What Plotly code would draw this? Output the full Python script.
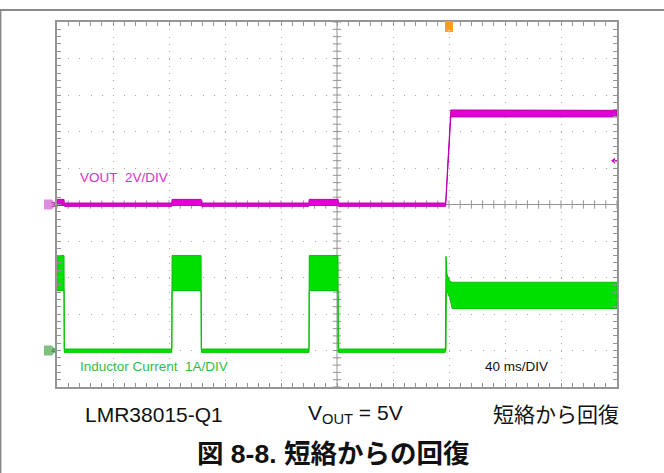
import numpy as np
import plotly.graph_objects as go

# ---------------- data (time in ms, VOUT in V, inductor current in A) ----------------
vout_t  = [0.0, 5.0, 5.2, 82.0, 82.2, 103.0, 103.2, 179.9, 180.1, 200.8, 201.0, 277.6, 281.3, 400.0]
vout_hi = [0.28, 0.28, 0.08, 0.08, 0.28, 0.28, 0.08, 0.08, 0.28, 0.28, 0.08, 0.08, 5.18, 5.16]
vout_lo = [-0.05, -0.05, -0.10, -0.10, -0.05, -0.05, -0.10, -0.10, -0.05, -0.05, -0.10, -0.10, 4.80, 4.80]

il_t  = [0.0, 5.0, 5.2, 82.0, 82.2, 102.9, 103.1, 180.0, 180.2, 200.7, 200.9, 277.4, 277.85, 278.1, 278.5, 280.5, 282.3, 400.0]
il_hi = [2.60, 2.60, 0.04, 0.04, 2.60, 2.60, 0.04, 0.04, 2.60, 2.60, 0.04, 0.04, 2.58, 2.20, 2.10, 1.90, 1.87, 1.87]
il_lo = [1.64, 1.64, -0.05, -0.05, 1.64, 1.64, -0.05, -0.05, 1.64, 1.64, -0.05, -0.05, 0.00, 1.65, 1.62, 1.45, 1.15, 1.15]

time_per_div = 40      # ms/div
n_xdiv = 10
n_ydiv = 10
vout_scale = 2.0       # V/div
il_scale = 1.0         # A/div
vout_offset = 0.0      # div
il_offset = -4.0       # div
trigger_time = 280.0   # ms
trigger_level = 2.4    # V

bottom_labels = ["LMR38015-Q1", "V<sub>OUT</sub> = 5V", "短絡から回復"]
caption = "図 8-8. 短絡からの回復"

# ---------------- colours ----------------
MAG = "#e000d4"
MAG_EDGE = "#b800b0"
GRN = "#00e000"
GRN_EDGE = "#00c000"
GRID = "#a8a8a8"
FRAME = "#959595"
FONT = "Liberation Sans, Arial, Noto Sans CJK JP, sans-serif"

x_max = time_per_div * n_xdiv
y_half = n_ydiv / 2


def to_div(vals, scale, offset):
    return [v / scale + offset for v in vals]


def band(t, hi, lo, fill, edge):
    return go.Scatter(
        x=list(t) + list(t[::-1]),
        y=list(hi) + list(lo[::-1]),
        mode="lines", fill="toself", fillcolor=fill,
        line=dict(color=edge, width=1), hoverinfo="skip",
    )


fig = go.Figure()

# centre-line tick marks
minor_t = np.arange(0, x_max + 1e-9, time_per_div / 5)
minor_y = np.arange(-y_half, y_half + 1e-9, 0.2)
fig.add_trace(go.Scatter(x=minor_t, y=[0] * len(minor_t), mode="markers",
                         marker=dict(symbol="line-ns", size=6, line=dict(color=FRAME, width=1)),
                         hoverinfo="skip"))
fig.add_trace(go.Scatter(x=[x_max / 2] * len(minor_y), y=minor_y, mode="markers",
                         marker=dict(symbol="line-ew", size=6, line=dict(color=FRAME, width=1)),
                         hoverinfo="skip"))

# waveforms
fig.add_trace(band(il_t, to_div(il_hi, il_scale, il_offset), to_div(il_lo, il_scale, il_offset), GRN, GRN_EDGE))
fig.add_trace(band(vout_t, to_div(vout_hi, vout_scale, vout_offset), to_div(vout_lo, vout_scale, vout_offset), MAG, MAG_EDGE))

marker_path = "M-13,-5 L-5,-5 L-1,0 L-5,5 L-13,5 Z"
shapes = [
    # centre vertical line
    dict(type="line", xref="x", yref="y", x0=x_max / 2, x1=x_max / 2, y0=-y_half, y1=y_half,
         line=dict(color=FRAME, width=1), layer="between"),
    # page frame lines
    dict(type="line", xref="paper", yref="paper", x0=-57 / 560, x1=607 / 560, y0=377 / 365, y1=377 / 365,
         line=dict(color="#8a8a8a", width=2)),
    dict(type="line", xref="paper", yref="paper", x0=-56.3 / 560, x1=-56.3 / 560, y0=377 / 365, y1=-90 / 365,
         line=dict(color="#8a8a8a", width=1.5)),
    # channel markers
    dict(type="path", xref="paper", yref="y", xsizemode="pixel", ysizemode="pixel", xanchor=0, yanchor=vout_offset,
         path=marker_path, fillcolor="#e08ae0", line=dict(width=0)),
    dict(type="path", xref="paper", yref="y", xsizemode="pixel", ysizemode="pixel", xanchor=0, yanchor=il_offset,
         path=marker_path, fillcolor="#7fc07f", line=dict(width=0)),
    # trigger position marker
    dict(type="path", xref="x", yref="paper", xsizemode="pixel", ysizemode="pixel", xanchor=trigger_time, yanchor=1,
         path="M-4,1 L4,1 L4,-10 L-4,-10 Z", fillcolor="#f3a020", line=dict(width=0)),
    # trigger level marker
    dict(type="path", xref="paper", yref="y", xsizemode="pixel", ysizemode="pixel", xanchor=1,
         yanchor=trigger_level / vout_scale + vout_offset,
         path="M-6,0 L-2,3 L-2,-3 Z M-3,0.8 L0,0.8 L0,-0.8 L-3,-0.8 Z", fillcolor=MAG, line=dict(width=0)),
]

annotations = [
    dict(x=x_max * 15 / 400, y=0.73, xref="x", yref="y", text="VOUT\u00a0\u00a02V/DIV", showarrow=False,
         xanchor="left", yanchor="middle", font=dict(family=FONT, size=13.5, color="#e030cc")),
    dict(x=x_max * 15 / 400, y=-4.45, xref="x", yref="y", text="Inductor Current\u00a0\u00a01A/DIV", showarrow=False,
         xanchor="left", yanchor="middle", font=dict(family=FONT, size=13.5, color="#30c048")),
    dict(x=x_max * 304.5 / 400, y=-4.45, xref="x", yref="y", text="40 ms/DIV", showarrow=False,
         xanchor="left", yanchor="middle", font=dict(family=FONT, size=13.5, color="#111111")),
    dict(x=0, y=vout_offset, xref="paper", yref="y", text="3", showarrow=False, xshift=-8,
         font=dict(family=FONT, size=8, color="#a020a0")),
    dict(x=0, y=il_offset, xref="paper", yref="y", text="4", showarrow=False, xshift=-8,
         font=dict(family=FONT, size=8, color="#308030")),
    dict(x=trigger_time, y=1, xref="x", yref="paper", text="T", showarrow=False, yshift=-5,
         font=dict(family=FONT, size=7, color="#ffe0a0")),
]

label_x = [0.1732, 0.533, 0.891]
for lx, txt in zip(label_x, bottom_labels):
    annotations.append(dict(x=lx, y=-27 / 365, xref="paper", yref="paper", text=txt, showarrow=False,
                            xanchor="center", yanchor="middle",
                            font=dict(family=FONT, size=21, color="#111111")))
annotations.append(dict(x=0.4938, y=-67 / 365, xref="paper", yref="paper", text="<b>" + caption + "</b>",
                        showarrow=False, xanchor="center", yanchor="middle",
                        font=dict(family=FONT, size=26.5, color="#111111")))

axis_common = dict(showline=True, linecolor=FRAME, linewidth=1.5, mirror="ticks",
                   ticks="inside", ticklen=4, tickcolor=FRAME, tickwidth=1,
                   showticklabels=False, showgrid=True, gridcolor=GRID, gridwidth=1,
                   fixedrange=True)

fig.update_layout(
    width=664, height=473,
    margin=dict(l=57, r=47, t=22, b=86),
    paper_bgcolor="white", plot_bgcolor="white",
    showlegend=False,
    hovermode=False,
    xaxis=dict(range=[0, x_max], dtick=time_per_div, tick0=0, griddash="1px,6.3px", zeroline=False,
               minor=dict(dtick=time_per_div / 5, ticks="inside", ticklen=4, tickcolor=FRAME, showgrid=False),
               **axis_common),
    yaxis=dict(range=[-y_half, y_half], dtick=1, tick0=0, griddash="1px,10.2px",
               zeroline=True, zerolinecolor=FRAME, zerolinewidth=1,
               minor=dict(dtick=0.2, ticks="inside", ticklen=4, tickcolor=FRAME, showgrid=False),
               **axis_common),
    shapes=shapes,
    annotations=annotations,
)

fig.write_html("out.html", config={"displayModeBar": False},
               post_script="document.body.style.margin='0px';")
